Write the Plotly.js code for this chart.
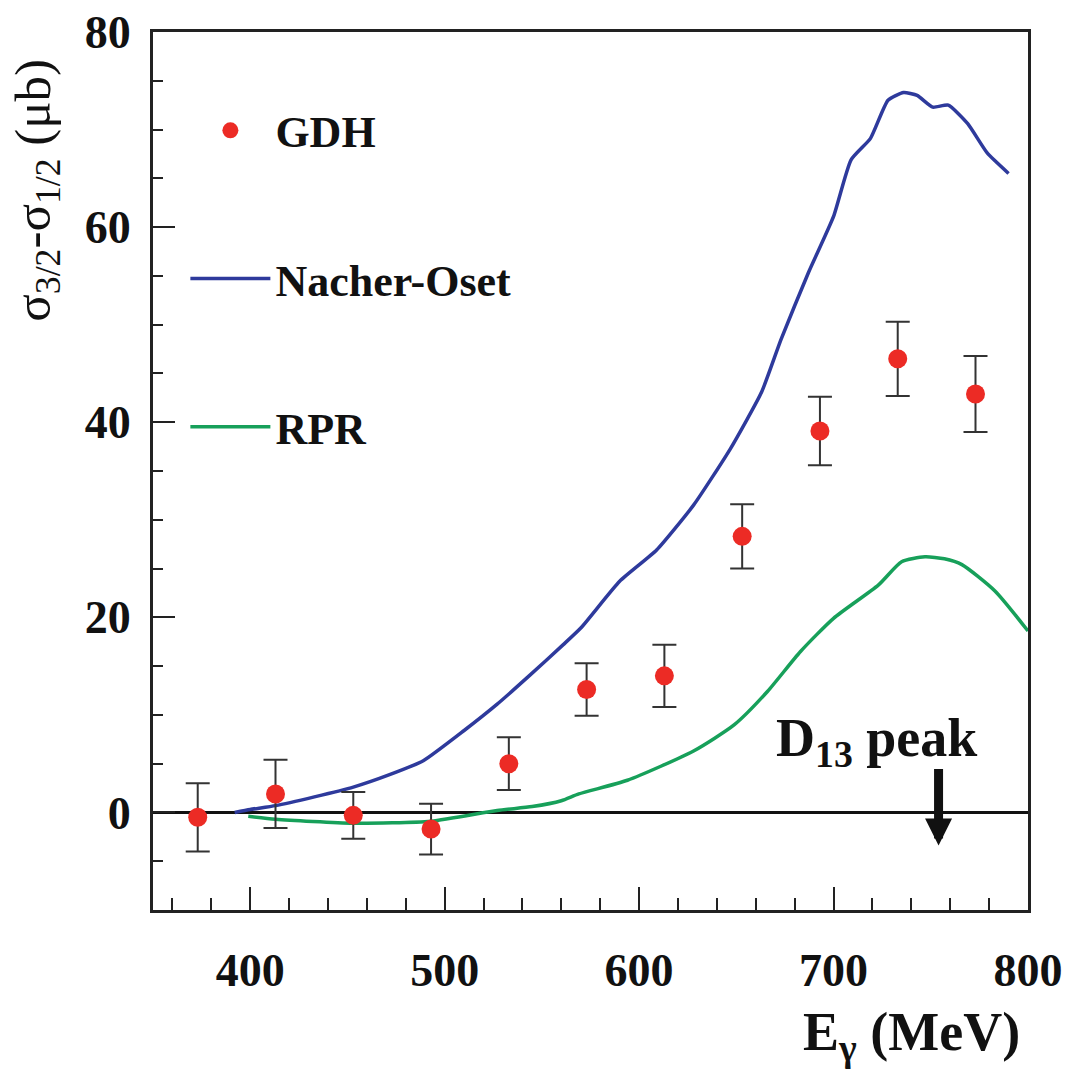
<!DOCTYPE html>
<html>
<head>
<meta charset="utf-8">
<script src="https://cdn.plot.ly/plotly-3.0.1.min.js"></script>
<style>html,body{margin:0;padding:0;background:#fff;}#chart{width:1070px;height:1074px;}</style>
</head>
<body>
<div id="chart"></div>
<script>
// GDH data points
const gdhE = [373, 413, 453, 493, 533, 573, 613, 653, 693, 733, 773];
const gdhVal = [-0.5, 1.9, -0.3, -1.7, 5.0, 12.6, 14.0, 28.3, 39.1, 46.5, 42.9];
const gdhErr = [3.5, 3.5, 2.4, 2.6, 2.7, 2.7, 3.2, 3.3, 3.5, 3.8, 3.9];

// Nacher-Oset curve
const noE = [392, 400, 413, 433, 453, 472, 489, 510, 527, 544, 561, 570, 590, 609, 628, 647, 663, 673, 687, 700, 709, 719, 728, 736, 743, 751, 759, 769, 779, 790];
const noVal = [0, 0.3, 0.7, 1.6, 2.6, 3.9, 5.3, 8.4, 11.1, 14.1, 17.2, 18.9, 23.7, 26.9, 31.5, 37.3, 43.1, 48.5, 55.3, 61.1, 66.9, 69.1, 73.0, 73.8, 73.5, 72.3, 72.5, 70.6, 67.6, 65.5];

// RPR curve
const rprE = [399, 413, 453, 493, 527, 545, 560, 569, 594, 628, 649, 666, 683, 700, 723, 735, 747, 757, 766, 783, 800];
const rprVal = [-0.4, -0.7, -1.1, -0.9, 0.2, 0.6, 1.2, 1.9, 3.3, 6.3, 9.0, 12.4, 16.5, 19.9, 23.3, 25.7, 26.2, 26.0, 25.4, 22.7, 18.6];

// D13 peak marker
const d13E = 754;
const d13ArrowFrom = 4.6;
const d13ArrowTo = -3.4;

const xTicks = [400, 500, 600, 700, 800];
const yTicks = [0, 20, 40, 60, 80];

const FONT = 'Liberation Serif, Times New Roman, serif';

const traces = [
  {
    x: rprE, y: rprVal, type: 'scatter', mode: 'lines', name: 'RPR',
    line: {color: '#17a05a', width: 3.5, shape: 'spline', smoothing: 0.6},
    legendgroup: 'c', legendrank: 3
  },
  {
    x: noE, y: noVal, type: 'scatter', mode: 'lines', name: 'Nacher-Oset',
    line: {color: '#2e3a9c', width: 3.5, shape: 'spline', smoothing: 0.5},
    legendgroup: 'b', legendrank: 2
  },
  {
    x: gdhE, y: gdhVal, type: 'scatter', mode: 'markers', name: 'GDH',
    marker: {color: '#ec2b25', size: 19},
    error_y: {type: 'data', array: gdhErr, visible: true, color: '#333', thickness: 2, width: 12},
    legendgroup: 'a', legendrank: 1
  }
];

const layout = {
  width: 1070, height: 1074,
  margin: {l: 153, r: 42, t: 32, b: 164},
  paper_bgcolor: '#ffffff', plot_bgcolor: '#ffffff',
  font: {family: FONT, color: '#111'},
  showlegend: true,
  legend: {
    x: 0.037, y: 0.928, xanchor: 'left', yanchor: 'top',
    bgcolor: 'rgba(0,0,0,0)',
    font: {family: FONT, size: 44, weight: 'bold', color: '#111'},
    traceorder: 'grouped', tracegroupgap: 88, itemwidth: 80
  },
  xaxis: {
    range: [350, 800],
    tickvals: xTicks, ticktext: xTicks.map(String),
    ticks: 'inside', ticklen: 23, tickwidth: 2, tickcolor: '#222',
    minor: {dtick: 20, tick0: 400, ticks: 'inside', ticklen: 12, tickwidth: 2, tickcolor: '#222'},
    showline: true, linecolor: '#222', linewidth: 3, mirror: true,
    showgrid: false, zeroline: false,
    tickfont: {family: FONT, size: 46, weight: 'bold', color: '#111'},
    ticklabelstandoff: 18
  },
  yaxis: {
    range: [-10, 80],
    tickvals: yTicks, ticktext: yTicks.map(String),
    ticks: 'inside', ticklen: 22, tickwidth: 2, tickcolor: '#222',
    minor: {dtick: 5, tick0: 0, ticks: 'inside', ticklen: 10, tickwidth: 2, tickcolor: '#222'},
    showline: true, linecolor: '#222', linewidth: 3, mirror: true,
    showgrid: false,
    zeroline: true, zerolinecolor: '#111', zerolinewidth: 3.5,
    tickfont: {family: FONT, size: 46, weight: 'bold', color: '#111'},
    ticklabelstandoff: 10
  },
  annotations: [
    {
      xref: 'paper', yref: 'paper', x: -0.133, y: 0.82,
      xanchor: 'center', yanchor: 'middle', textangle: -90, showarrow: false,
      text: 'σ<sub>3/2</sub>-σ<sub>1/2</sub> (μb)',
      font: {family: FONT, size: 51, color: '#111'}
    },
    {
      xref: 'paper', yref: 'paper', x: 0.867, y: -0.143,
      xanchor: 'center', yanchor: 'middle', showarrow: false,
      text: 'E<sub>γ</sub> (MeV)',
      font: {family: FONT, size: 54, weight: 'bold', color: '#111'}
    },
    {
      xref: 'x', yref: 'y', x: 722, y: 7.3,
      xanchor: 'center', yanchor: 'middle', showarrow: false,
      text: 'D<sub>13</sub> peak',
      font: {family: FONT, size: 54, weight: 'bold', color: '#111'}
    },
    {
      xref: 'x', yref: 'y', x: d13E, y: d13ArrowTo,
      axref: 'x', ayref: 'y', ax: d13E, ay: d13ArrowFrom,
      text: '', showarrow: true, arrowhead: 2, arrowsize: 0.6, arrowwidth: 9, arrowcolor: '#111'
    }
  ]
};

Plotly.newPlot('chart', traces, layout, {displayModeBar: false, staticPlot: true});
</script>
</body>
</html>
